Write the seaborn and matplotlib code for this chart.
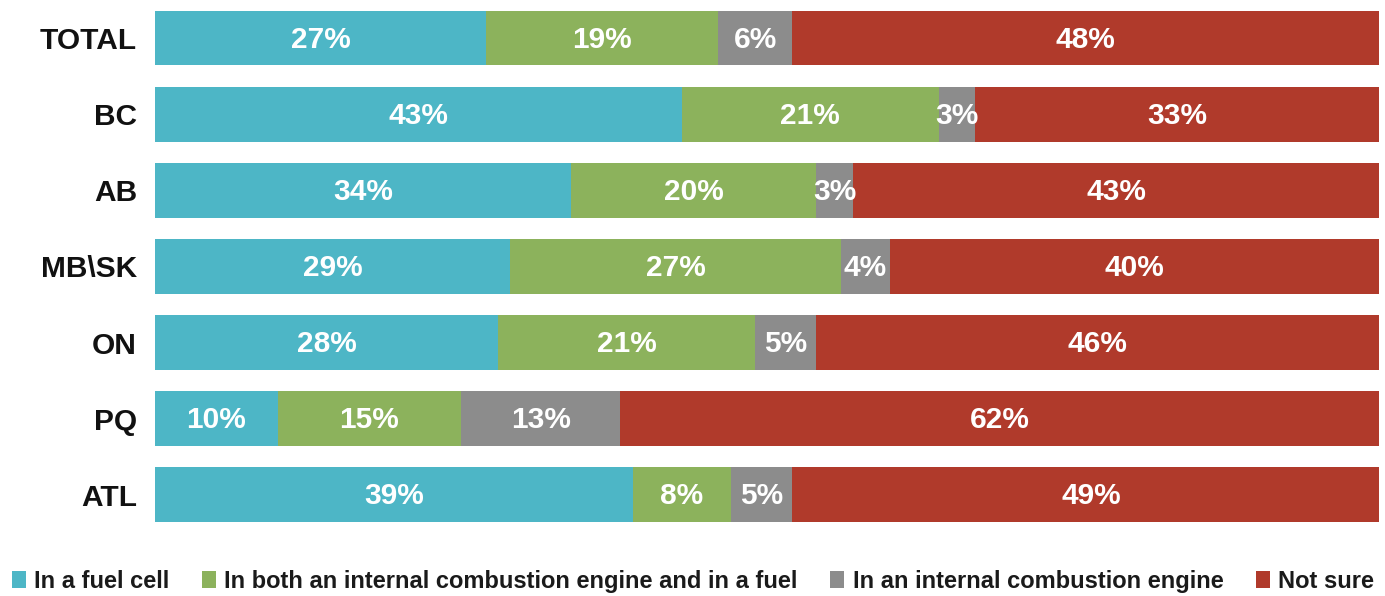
import matplotlib
matplotlib.use("Agg")
import matplotlib.pyplot as plt
import seaborn as sns
import pandas as pd
import numpy as np
from matplotlib.patches import Patch

regions = ["TOTAL", "BC", "AB", "MB\\SK", "ON", "PQ", "ATL"]
fuel_cell = [27, 43, 34, 29, 28, 10, 39]
both = [19, 21, 20, 27, 21, 15, 8]
ice = [6, 3, 3, 4, 5, 13, 5]
not_sure = [48, 33, 43, 40, 46, 62, 49]
series_names = ["In a fuel cell",
                "In both an internal combustion engine and in a fuel",
                "In an internal combustion engine",
                "Not sure"]
colors = ["#4DB6C6", "#8CB25C", "#8C8C8C", "#B03A2B"]

sns.set_theme(style="white")
plt.rcParams['font.family'] = ['Liberation Sans', 'DejaVu Sans']

series = [fuel_cell, both, ice, not_sure]
cum = np.cumsum(np.array(series), axis=0)

fig = plt.figure(figsize=(13.85, 5.96), dpi=100)
ax = fig.add_axes([0.112, 0.106, 0.884, 0.894])

for i in range(len(series) - 1, -1, -1):
    df = pd.DataFrame({"region": regions, "value": cum[i]})
    sns.barplot(data=df, x="value", y="region", orient="h", color=colors[i],
                saturation=1, width=0.72, ax=ax, order=regions,
                linewidth=0, edgecolor="none")

for i, s in enumerate(series):
    start = cum[i] - np.array(s)
    for j, v in enumerate(s):
        ax.text(start[j] + v / 2, j + 0.02, f"{v}%", ha="center", va="center",
                color="white", fontsize=21.5, fontweight="bold")

ax.set_xlim(0, 100)
ax.set_ylim(6.5, -0.5)
ax.set_xlabel("")
ax.set_ylabel("")
ax.set_xticks([])
ax.tick_params(axis="y", length=0, pad=13)
for lab in ax.get_yticklabels():
    lab.set_fontsize(21.5)
    lab.set_fontweight("bold")
    lab.set_color("#111111")
for sp in ax.spines.values():
    sp.set_visible(False)

handles = [Patch(facecolor=c, edgecolor="none") for c in colors]
leg = fig.legend(handles, series_names, loc="lower left", bbox_to_anchor=(-0.007, -0.03),
                 ncol=4, frameon=False, handlelength=0.6, handleheight=0.7,
                 handletextpad=0.35, columnspacing=1.38,
                 prop={"size": 17, "weight": "bold"})
for t in leg.get_texts():
    t.set_color("#1a1a1a")

fig.savefig("out.png", dpi=100)
